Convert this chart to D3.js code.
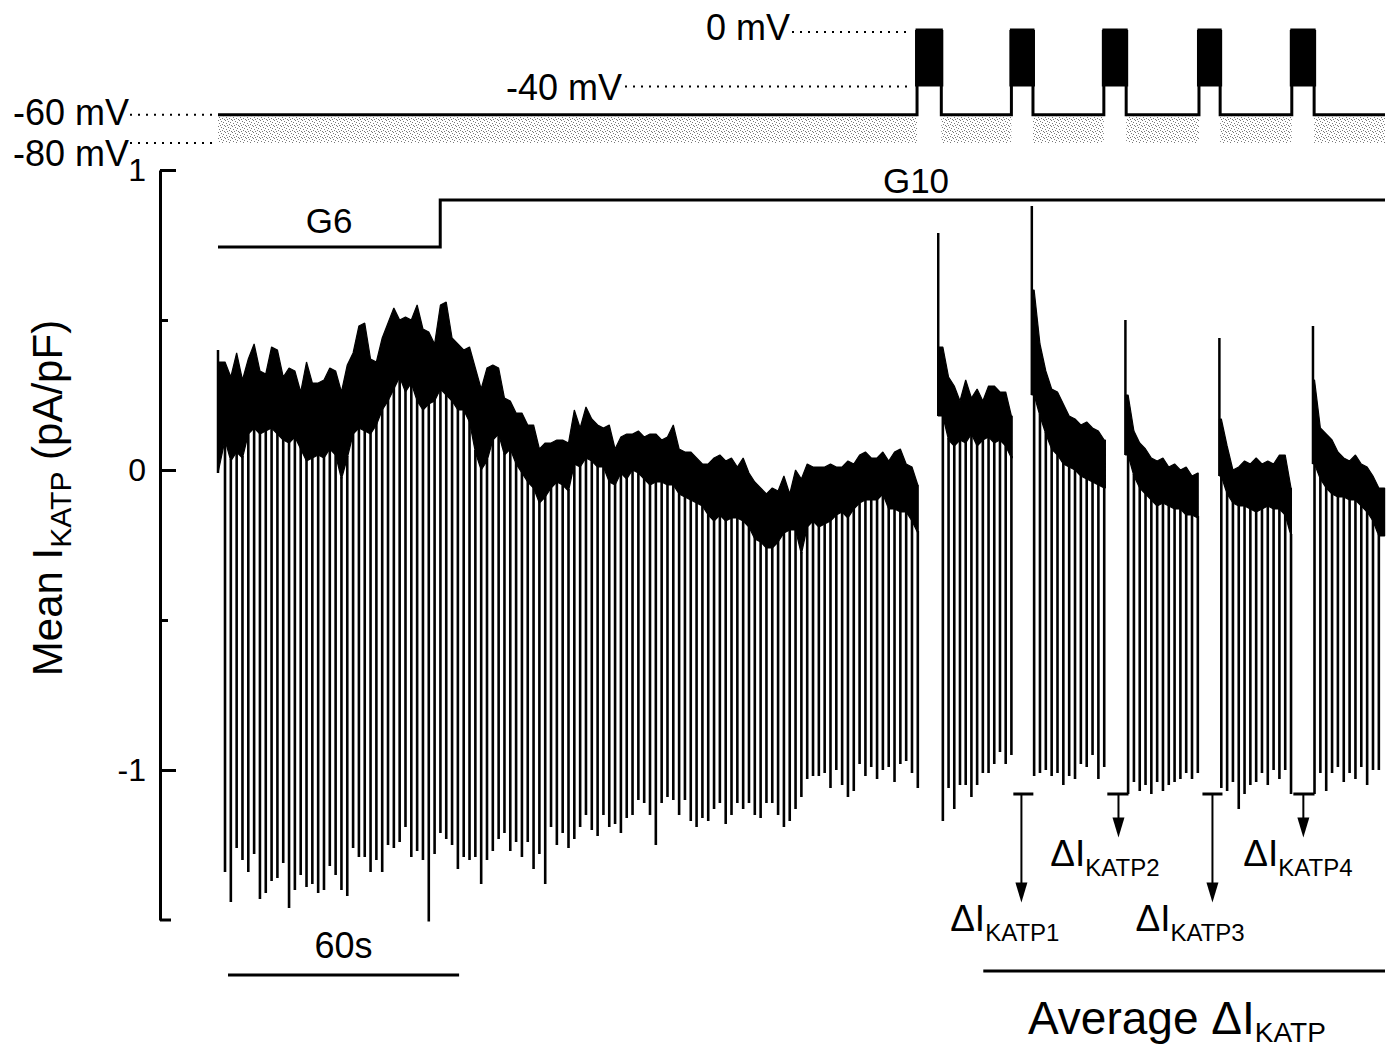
<!DOCTYPE html>
<html>
<head>
<meta charset="utf-8">
<script src="https://cdn.jsdelivr.net/npm/d3@7"></script>
<style>
  body { margin: 0; background: #fff; }
  svg { display: block; font-family: "Liberation Sans", Arial, Helvetica, sans-serif; }
</style>
</head>
<body>
<svg width="1394" height="1051"></svg>
<script>
// dati (tempo in s, corrente in pA/pF, voltaggio in mV)

// segmento 1: bordo superiore, bordo inferiore della banda e minimo di ogni impulso
const seg1Top = [0.36, 0.31, 0.39, 0.30, 0.37, 0.42, 0.33, 0.32, 0.41, 0.40, 0.31, 0.34, 0.33, 0.26, 0.36, 0.29, 0.29, 0.30, 0.34, 0.33,
  0.26, 0.35, 0.39, 0.48, 0.49, 0.37, 0.36, 0.44, 0.49, 0.54, 0.50, 0.51, 0.50, 0.55, 0.47, 0.46, 0.42, 0.55, 0.56, 0.44,
  0.42, 0.40, 0.41, 0.34, 0.27, 0.34, 0.35, 0.34, 0.24, 0.23, 0.19, 0.19, 0.15, 0.15, 0.07, 0.09, 0.09, 0.10, 0.10, 0.09,
  0.20, 0.14, 0.21, 0.17, 0.15, 0.14, 0.15, 0.07, 0.11, 0.12, 0.12, 0.13, 0.11, 0.12, 0.12, 0.10, 0.11, 0.15, 0.07, 0.06,
  0.06, 0.04, 0.02, 0.02, 0.04, 0.05, 0.03, 0.04, 0.01, 0.04, -0.01, -0.04, -0.06, -0.08, -0.06, -0.07, -0.02, -0.08, 0.00, -0.03,
  0.02, 0.01, 0.01, 0.01, 0.02, 0.01, 0.01, 0.03, 0.02, 0.05, 0.06, 0.04, 0.04, 0.06, 0.03, 0.06, 0.07, 0.02, 0.01, -0.05];
const seg1Bot = [0.10, 0.03, 0.06, 0.04, 0.12, 0.14, 0.12, 0.13, 0.14, 0.12, 0.10, 0.09, 0.11, 0.07, 0.03, 0.04, 0.05, 0.04, 0.07, 0.05,
  -0.03, 0.04, 0.12, 0.14, 0.13, 0.12, 0.15, 0.20, 0.23, 0.27, 0.31, 0.26, 0.29, 0.23, 0.20, 0.22, 0.23, 0.27, 0.25, 0.23,
  0.20, 0.20, 0.16, 0.06, 0.00, 0.03, 0.10, 0.12, 0.05, 0.07, 0.02, -0.01, -0.04, -0.06, -0.11, -0.09, -0.06, -0.04, -0.05, -0.07,
  0.02, 0.01, 0.04, 0.03, 0.01, 0.01, -0.04, -0.05, -0.01, -0.03, 0.00, -0.01, -0.03, -0.05, -0.04, -0.04, -0.05, -0.05, -0.08, -0.09,
  -0.10, -0.11, -0.12, -0.15, -0.17, -0.15, -0.17, -0.16, -0.16, -0.17, -0.19, -0.23, -0.24, -0.26, -0.26, -0.24, -0.21, -0.20, -0.20, -0.28,
  -0.19, -0.17, -0.19, -0.18, -0.17, -0.15, -0.14, -0.16, -0.13, -0.11, -0.10, -0.10, -0.10, -0.08, -0.13, -0.13, -0.14, -0.14, -0.17, -0.21];
const seg1Min = [-1.34, -1.44, -1.26, -1.30, -1.34, -1.28, -1.43, -1.41, -1.37, -1.36, -1.31, -1.46, -1.40, -1.35, -1.39, -1.38, -1.41, -1.40, -1.32, -1.35,
  -1.40, -1.42, -1.26, -1.29, -1.29, -1.34, -1.30, -1.34, -1.25, -1.26, -1.24, -1.19, -1.29, -1.27, -1.30, -1.505, -1.28, -1.21, -1.23, -1.25,
  -1.33, -1.29, -1.30, -1.29, -1.38, -1.30, -1.27, -1.23, -1.21, -1.27, -1.24, -1.29, -1.24, -1.33, -1.28, -1.38, -1.19, -1.25, -1.21, -1.26,
  -1.23, -1.19, -1.15, -1.20, -1.22, -1.15, -1.19, -1.18, -1.21, -1.16, -1.15, -1.10, -1.11, -1.15, -1.25, -1.11, -1.09, -1.10, -1.15, -1.10,
  -1.17, -1.19, -1.16, -1.17, -1.13, -1.11, -1.18, -1.15, -1.11, -1.13, -1.11, -1.15, -1.16, -1.11, -1.11, -1.15, -1.19, -1.17, -1.13, -1.09,
  -1.03, -1.02, -1.02, -1.01, -1.06, -1.00, -1.05, -1.09, -1.07, -0.98, -1.02, -0.99, -1.03, -1.00, -0.99, -1.04, -0.98, -0.97, -1.01, -1.06];

const seg2Top = [0.41, 0.31, 0.28, 0.23, 0.30, 0.24, 0.27, 0.23, 0.28, 0.28, 0.26, 0.26, 0.18];
const seg2Bot = [0.18, 0.10, 0.08, 0.10, 0.09, 0.12, 0.08, 0.10, 0.11, 0.09, 0.10, 0.08, 0.04];
const seg2Min = [-1.17, -1.06, -1.13, -1.05, -1.05, -1.09, -1.05, -1.01, -1.01, -0.98, -0.94, -0.98, -0.95];

const seg3Top = [0.60, 0.42, 0.33, 0.27, 0.26, 0.22, 0.18, 0.17, 0.15, 0.16, 0.14, 0.13, 0.10];
const seg3Bot = [0.25, 0.18, 0.12, 0.07, 0.05, 0.02, 0.01, 0.00, -0.02, -0.03, -0.04, -0.05, -0.06];
const seg3Min = [-1.02, -1.01, -1.00, -1.02, -1.01, -1.05, -1.02, -1.03, -0.98, -0.99, -0.95, -1.03, -0.99];

const seg4Top = [0.25, 0.13, 0.09, 0.07, 0.04, 0.03, 0.04, 0.01, 0.02, 0.00, 0.01, -0.02, -0.01];
const seg4Bot = [0.05, -0.02, -0.06, -0.08, -0.10, -0.12, -0.11, -0.12, -0.13, -0.13, -0.15, -0.15, -0.16];
const seg4Min = [-1.08, -1.04, -1.07, -1.05, -1.08, -1.04, -1.07, -1.05, -1.04, -1.03, -1.01, -1.03, -1.01];

const seg5Top = [0.17, 0.08, 0.00, 0.01, 0.03, 0.02, 0.04, 0.02, 0.03, 0.02, 0.05, 0.05, -0.06];
const seg5Bot = [-0.02, -0.08, -0.11, -0.12, -0.12, -0.13, -0.14, -0.13, -0.12, -0.13, -0.13, -0.15, -0.22];
const seg5Min = [-1.06, -1.07, -1.04, -1.13, -1.08, -1.05, -1.04, -1.01, -1.05, -1.00, -1.03, -1.00, -1.08];

const seg6Top = [0.30, 0.14, 0.12, 0.10, 0.06, 0.04, 0.03, 0.05, 0.02, 0.01, -0.02, -0.06];
const seg6Bot = [0.02, -0.03, -0.06, -0.08, -0.09, -0.09, -0.10, -0.10, -0.12, -0.14, -0.17, -0.22];
const seg6Min = [-1.08, -1.01, -1.07, -1.01, -0.99, -1.04, -1.01, -1.03, -0.99, -1.05, -1.00, -1.00];

// tempi dei segmenti: inizio, primo impulso, ultimo impulso, fine
const segStart = [0, 187.0, 211.3, 235.6, 260.0, 284.3];
const segFirst = [1.82, 188.2, 211.9, 236.3, 260.5, 284.7];
const segLast  = [181.7, 206.0, 230.1, 254.4, 278.6, 301.4];
const segEnd   = [181.8, 206.2, 230.4, 254.5, 278.7, 302.9];
const segPeak  = [0.40, 0.79, 0.88, 0.50, 0.44, 0.48];
const segLow   = [-0.01, 0.18, 0.25, 0.05, -0.02, 0.02];

// depolarizzazioni a 0 mV (inizio, fine)
const pulses = [[181.5, 187.8], [206.0, 211.6], [230.0, 235.8], [254.7, 260.2], [278.8, 284.6]];
const holdV = -60, stepV = 0, midV = -40, hyperV = -80;

// glucosio: G6 fino al cambio, poi G10
const glucoseSwitch = 57.7;
const traceEnd = 303;

// marcatori ΔIKATP: barra (t0-t1), freccia (t), livello e punta
const markers = [
  { name: "KATP1", t0: 206.5, t1: 211.7, t: 208.6, level: -1.08, tip: -1.442, labelT: 190.1 },
  { name: "KATP2", t0: 230.9, t1: 236.4, t: 233.8, level: -1.08, tip: -1.225, labelT: 216.1 },
  { name: "KATP3", t0: 255.6, t1: 260.8, t: 258.2, level: -1.08, tip: -1.442, labelT: 238.2 },
  { name: "KATP4", t0: 279.2, t1: 284.7, t: 281.8, level: -1.08, tip: -1.225, labelT: 266.2 }
];
const scaleBarStart = 2.6, scaleBarLen = 60;
const averageRange = [198.7, 303];
const yTicks = [1, 0, -1];
const yMinorTicks = [0.5, -0.5];

const svg = d3.select("svg");

const xScale = d3.scaleLinear().domain([0, 303]).range([218, 1385]);
const yScale = d3.scaleLinear().domain([-1.5, 1]).range([920, 170]);
const vScale = d3.scaleLinear().domain([-80, 0]).range([143, 30]);

// pattern puntinato per la zona -60/-80 mV
const defs = svg.append("defs");
const pat = defs.append("pattern").attr("id", "stip")
  .attr("width", 7).attr("height", 6).attr("patternUnits", "userSpaceOnUse");
[[1, 0], [4, 1], [6, 2], [2, 3], [5, 4], [0, 5], [3, 5]].forEach(p => {
  pat.append("rect").attr("x", p[0]).attr("y", p[1]).attr("width", 1).attr("height", 1).attr("fill", "#7a7a7a");
});

// ---- protocollo di voltaggio ----
const gaps = [[0, pulses[0][0]]];
pulses.forEach((p, i) => gaps.push([p[1], i < pulses.length - 1 ? pulses[i + 1][0] : traceEnd]));
svg.selectAll(".stip").data(gaps).join("rect")
  .attr("class", "stip")
  .attr("x", d => xScale(d[0]))
  .attr("width", d => xScale(d[1]) - xScale(d[0]))
  .attr("y", vScale(holdV) + 2)
  .attr("height", vScale(hyperV) - vScale(holdV) - 2)
  .attr("fill", "url(#stip)");

const protoPts = [{ t: 0, v: holdV }];
pulses.forEach(p => { protoPts.push({ t: p[0], v: stepV }); protoPts.push({ t: p[1], v: holdV }); });
protoPts.push({ t: traceEnd, v: holdV });
svg.append("path")
  .datum(protoPts)
  .attr("d", d3.line().x(d => xScale(d.t)).y(d => vScale(d.v)).curve(d3.curveStepAfter))
  .attr("fill", "none").attr("stroke", "#000").attr("stroke-width", 3);

svg.selectAll(".pulseFill").data(pulses).join("rect")
  .attr("class", "pulseFill")
  .attr("x", d => xScale(d[0]) - 2)
  .attr("width", d => xScale(d[1]) - xScale(d[0]) + 4)
  .attr("y", vScale(stepV))
  .attr("height", vScale(midV) - vScale(stepV))
  .attr("fill", "#000");

// linee tratteggiate dei livelli
const dotted = [
  { v: holdV, x1: 130, x2: 213, label: "-60 mV", lx: 129, ly: 125 },
  { v: hyperV, x1: 130, x2: 215, label: "-80 mV", lx: 129, ly: 166 },
  { v: stepV, x1: 792, x2: 912, label: "0 mV", lx: 790, ly: 40 },
  { v: midV, x1: 625, x2: 912, label: "-40 mV", lx: 622, ly: 100 }
];
svg.selectAll(".dots").data(dotted).join("line")
  .attr("class", "dots")
  .attr("x1", d => d.x1).attr("x2", d => d.x2)
  .attr("y1", d => vScale(d.v) + (d.v === stepV ? 2 : 0))
  .attr("y2", d => vScale(d.v) + (d.v === stepV ? 2 : 0))
  .attr("stroke", "#000").attr("stroke-width", 2)
  .attr("stroke-dasharray", "2,6");
svg.selectAll(".vlab").data(dotted).join("text")
  .attr("class", "vlab")
  .attr("x", d => d.lx).attr("y", d => d.ly)
  .attr("text-anchor", "end")
  .attr("font-size", 36)
  .text(d => d.label);

// ---- barra del glucosio ----
svg.append("path")
  .attr("d", `M${xScale(0)},247 H${xScale(glucoseSwitch)} V200 H${xScale(traceEnd)}`)
  .attr("fill", "none").attr("stroke", "#000").attr("stroke-width", 3);
svg.append("text").attr("x", xScale(glucoseSwitch / 2)).attr("y", 233)
  .attr("text-anchor", "middle").attr("font-size", 35).text("G6");
svg.append("text").attr("x", 916).attr("y", 193)
  .attr("text-anchor", "middle").attr("font-size", 35).text("G10");

// ---- asse y ----
const yAxis = d3.axisLeft(yScale).tickValues(yTicks).tickFormat(d => String(d))
  .tickSizeInner(-16).tickSizeOuter(0).tickPadding(14);
const axG = svg.append("g").attr("transform", "translate(160,0)").call(yAxis);
axG.select(".domain").attr("stroke-width", 3);
axG.selectAll(".tick line").attr("stroke-width", 3);
axG.selectAll(".tick text").attr("font-size", 32).attr("font-family", "Liberation Sans, Arial, sans-serif").attr("fill", "#000");

const minorG = svg.append("g").attr("transform", "translate(160,0)")
  .call(d3.axisLeft(yScale).tickValues(yMinorTicks).tickSize(-8).tickFormat(""));
minorG.select(".domain").remove();
minorG.selectAll(".tick line").attr("stroke-width", 3);
svg.append("line").attr("x1", 160).attr("x2", 171)
  .attr("y1", yScale(-1.5)).attr("y2", yScale(-1.5))
  .attr("stroke", "#000").attr("stroke-width", 3);

const yLab = svg.append("text")
  .attr("transform", "translate(62,498) rotate(-90)")
  .attr("text-anchor", "middle").attr("font-size", 42);
yLab.append("tspan").text("Mean I");
yLab.append("tspan").attr("font-size", 30).attr("dy", 9).text("KATP");
yLab.append("tspan").attr("dy", -9).text(" (pA/pF)");

// ---- traccia di corrente ----
const segData = [
  [seg1Top, seg1Bot, seg1Min], [seg2Top, seg2Bot, seg2Min], [seg3Top, seg3Bot, seg3Min],
  [seg4Top, seg4Bot, seg4Min], [seg5Top, seg5Bot, seg5Min], [seg6Top, seg6Bot, seg6Min]
];
const bandArea = d3.area()
  .x(d => xScale(d.t))
  .y0(d => yScale(d.bot))
  .y1(d => yScale(d.top));

const traceG = svg.append("g");
segData.forEach((s, si) => {
  const [top, bot, mins] = s;
  const n = top.length;
  const idx = d3.scaleLinear().domain([0, n - 1]).range([segFirst[si], segLast[si]]);
  const samples = top.map((v, i) => ({ t: idx(i), top: v, bot: bot[i], min: mins[i] }));
  const pts = [{ t: segStart[si], top: top[0], bot: segLow[si] }]
    .concat(samples)
    .concat([{ t: segEnd[si], top: top[n - 1], bot: bot[n - 1] }]);

  traceG.append("path").datum(pts)
    .attr("d", bandArea)
    .attr("fill", "#000").attr("stroke", "#000").attr("stroke-width", 1.2)
    .attr("stroke-linejoin", "bevel");

  traceG.selectAll(".spk" + si).data(samples).join("line")
    .attr("class", "spk" + si)
    .attr("x1", d => xScale(d.t)).attr("x2", d => xScale(d.t))
    .attr("y1", d => yScale(d.bot) - 2)
    .attr("y2", d => yScale(d.min))
    .attr("stroke", "#000").attr("stroke-width", 2.6);

  // transiente iniziale
  traceG.append("line")
    .attr("x1", xScale(segStart[si])).attr("x2", xScale(segStart[si]))
    .attr("y1", yScale(segLow[si])).attr("y2", yScale(segPeak[si]))
    .attr("stroke", "#000").attr("stroke-width", 2.5);
});

// ---- marcatori ΔIKATP ----
const mG = svg.selectAll(".marker").data(markers).join("g").attr("class", "marker");
mG.append("line")
  .attr("x1", d => xScale(d.t0)).attr("x2", d => xScale(d.t1))
  .attr("y1", d => yScale(d.level)).attr("y2", d => yScale(d.level))
  .attr("stroke", "#000").attr("stroke-width", 3);
mG.append("line")
  .attr("x1", d => xScale(d.t)).attr("x2", d => xScale(d.t))
  .attr("y1", d => yScale(d.level)).attr("y2", d => yScale(d.tip) - 18)
  .attr("stroke", "#000").attr("stroke-width", 2);
mG.append("path")
  .attr("d", d => {
    const x = xScale(d.t), y = yScale(d.tip);
    return `M${x - 6},${y - 20} L${x + 6},${y - 20} L${x},${y} Z`;
  })
  .attr("fill", "#000");
const mLab = mG.append("text")
  .attr("x", d => xScale(d.labelT))
  .attr("y", d => yScale(d.tip) + 28)
  .attr("font-size", 37);
mLab.append("tspan").text("ΔI");
mLab.append("tspan").attr("font-size", 24).attr("dy", 10).text(d => d.name);

// ---- barra di scala 60 s ----
svg.append("line")
  .attr("x1", xScale(scaleBarStart)).attr("x2", xScale(scaleBarStart + scaleBarLen))
  .attr("y1", 975).attr("y2", 975)
  .attr("stroke", "#000").attr("stroke-width", 3);
svg.append("text")
  .attr("x", xScale(scaleBarStart + scaleBarLen / 2)).attr("y", 958)
  .attr("text-anchor", "middle").attr("font-size", 36).text("60s");

// ---- media ----
svg.append("line")
  .attr("x1", xScale(averageRange[0])).attr("x2", xScale(averageRange[1]))
  .attr("y1", 971).attr("y2", 971)
  .attr("stroke", "#000").attr("stroke-width", 3);
const avg = svg.append("text").attr("x", 1028).attr("y", 1034).attr("font-size", 46);
avg.append("tspan").text("Average ΔI");
avg.append("tspan").attr("font-size", 28).attr("dy", 8).text("KATP");
</script>
</body>
</html>
